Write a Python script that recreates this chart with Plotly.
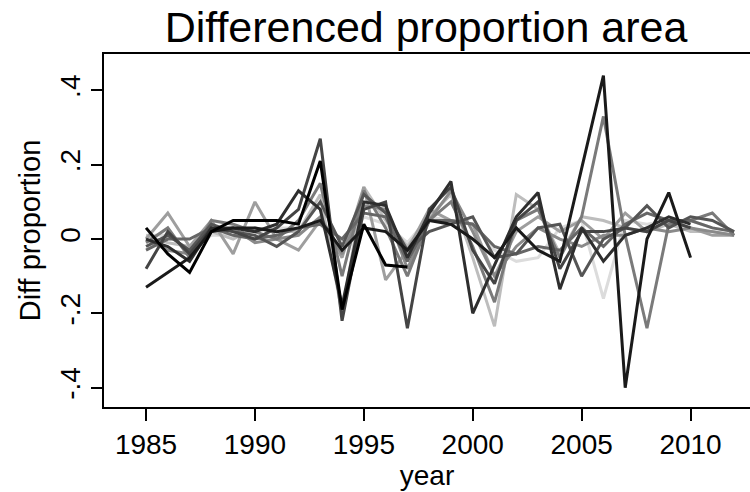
import plotly.graph_objects as go

years = list(range(1985, 2013))
N = None

s1 = [-0.13,-0.09,-0.05,0.02,0.03,0.03,0.02,0.03,0.05,-0.03,0.03,0.02,-0.03,0.05,0.04,0.00,-0.05,0.03,-0.03,-0.06,0.19,0.44,-0.40,0.00,0.125,-0.05,N,N]
s2 = [0.03,-0.04,-0.09,0.02,0.05,0.05,0.05,0.04,0.21,-0.19,0.04,-0.07,-0.075,N,N,N,N,N,N,N,N,N,N,N,N,N,N,N]
s3 = [0.00,-0.02,-0.06,0.03,0.03,0.02,0.04,0.13,0.08,-0.18,0.10,0.09,-0.05,0.07,0.155,-0.20,-0.07,0.06,0.125,-0.135,0.03,-0.06,0.01,0.03,0.06,0.04,N,N]
s4 = [-0.08,0.02,-0.04,0.03,0.02,0.00,0.03,0.08,0.27,-0.22,0.08,0.10,-0.24,0.08,0.14,-0.03,-0.12,0.05,0.10,-0.08,0.02,0.02,0.03,0.02,0.05,0.03,N,N]
s5 = [-0.02,0.01,-0.03,0.04,0.02,0.01,-0.02,0.02,0.10,-0.02,0.12,0.07,-0.03,0.02,0.04,0.06,-0.05,-0.04,0.03,0.04,-0.10,0.00,0.03,0.09,0.03,0.06,0.05,0.02]
s6 = [-0.01,0.03,-0.05,0.05,0.04,0.02,0.00,0.05,0.15,-0.10,0.13,0.03,-0.10,0.05,0.10,-0.02,-0.17,0.05,0.08,-0.05,0.06,0.33,0.01,-0.24,0.04,0.05,0.07,0.01]
s7 = [0.00,0.07,-0.02,0.05,-0.04,0.10,0.00,-0.03,0.05,-0.05,0.14,-0.11,-0.03,0.08,0.05,0.04,-0.10,0.02,0.06,0.02,0.05,0.00,0.07,0.02,0.05,0.03,0.01,0.01]
s8 = [0.01,-0.01,-0.02,0.02,0.00,0.03,0.02,0.02,0.12,-0.20,0.14,0.05,-0.02,0.06,0.12,-0.05,-0.235,0.12,0.08,-0.04,0.06,0.05,0.03,0.02,0.04,0.02,0.02,0.01]
s9 = [0.01,0.01,-0.03,0.01,0.01,0.02,0.03,0.03,0.04,-0.03,0.06,0.04,-0.01,0.06,0.05,0.04,-0.03,-0.06,-0.05,0.03,0.05,-0.16,0.05,0.04,0.05,0.05,0.03,0.02]
s10 = [-0.03,0.00,0.00,0.03,0.01,0.00,0.01,0.03,0.04,0.00,0.07,0.06,-0.06,0.05,0.05,0.04,-0.02,-0.04,-0.02,-0.03,0.03,-0.02,0.04,0.07,0.05,0.05,0.03,0.02]
s11 = [0.00,-0.03,-0.04,0.02,0.03,-0.01,0.00,0.01,0.06,-0.04,0.09,0.08,-0.08,0.05,0.13,0.02,-0.10,-0.02,0.03,0.00,-0.02,0.01,0.01,0.03,0.02,0.03,0.02,0.01]

series = [s9, s8, s7, s11, s6, s10, s5, s4, s3, s1, s2]
colors = ["#dcdcdc", "#bdbdbd", "#9e9e9e", "#8a8a8a", "#7a7a7a", "#666666", "#555555", "#444444", "#2e2e2e", "#1a1a1a", "#000000"]

xticks = [1985, 1990, 1995, 2000, 2005, 2010]
yticks = [-0.4, -0.2, 0, 0.2, 0.4]
yticktext = ["-.4", "-.2", "0", ".2", ".4"]

fig = go.Figure()
for s, c in zip(series, colors):
    fig.add_trace(go.Scatter(x=years, y=s, mode="lines", line=dict(color=c, width=3),
                             connectgaps=False, showlegend=False))

font = "Liberation Sans, Arial, sans-serif"
fig.update_layout(
    width=750, height=492,
    margin=dict(l=104, r=0, t=54, b=85),
    paper_bgcolor="white", plot_bgcolor="white",
    font=dict(family=font, color="black"),
    title=dict(text="Differenced proportion area", x=426/750, xanchor="center",
               y=1-27/492, yanchor="middle", font=dict(size=43, family=font, color="black")),
    xaxis=dict(range=[1983.07, 2012.73], tickvals=xticks, ticks="outside", ticklen=12,
               tickwidth=1.5, tickcolor="black", showline=True, linecolor="black", linewidth=1.5,
               mirror=True, showgrid=False, zeroline=False, tickfont=dict(size=28),
               title=dict(text="year", font=dict(size=28), standoff=0)),
    yaxis=dict(range=[-0.452, 0.498], tickvals=yticks, ticktext=yticktext, tickangle=-90,
               ticks="outside", ticklen=11, tickwidth=1.5, tickcolor="black",
               showline=True, linecolor="black", linewidth=1.5, showgrid=False, zeroline=False,
               tickfont=dict(size=28), title=dict(text="Diff proportion", font=dict(size=29), standoff=6)),
)
fig.write_html("out.html")
